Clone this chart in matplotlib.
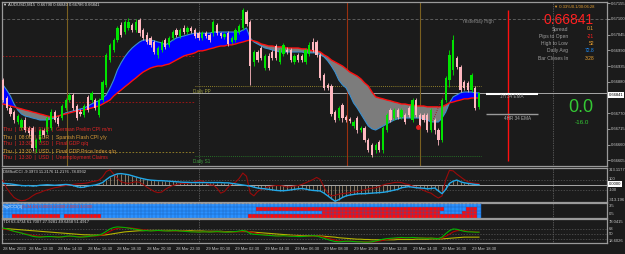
import numpy as np
import matplotlib
matplotlib.use("Agg")
import matplotlib.pyplot as plt
from matplotlib.colors import ListedColormap

plt.rcParams['font.family'] = ['Liberation Sans', 'DejaVu Sans']

W, H = 625, 254
BG = "#1b1b1b"

# ---- AUDUSD M15 bars, prices in 1e-5 ----
opens = [66886, 66823, 66788, 66774, 66739, 66718, 66746, 66718, 66718, 66648,
         66676, 66711, 66704, 66718, 66774, 66753, 66753, 66788, 66816, 66834,
         66795, 66774, 66764, 66827, 66816, 66816, 66764, 66816, 66869, 66956,
         66991, 67026, 67079, 67054, 67068, 67079, 67061, 67096, 67061, 67044,
         67033, 67019, 66974, 66991, 67026, 67009, 67033, 67061, 67040, 67068,
         67054, 67068, 67061, 67050, 67033, 67050, 67044, 67050, 67079, 67050,
         67037, 67050, 67019, 67026, 67054, 67068, 67124, 67089, 66949, 66984,
         66998, 66928, 66970, 66984, 67005, 66949, 66977, 66991, 66991, 66949,
         66974, 66970, 66949, 66977, 67019, 67019, 66974, 66904, 66869, 66865,
         66774, 66753, 66798, 66757, 66750, 66725, 66753, 66711, 66718, 66676,
         66658, 66641, 66669, 66641, 66711, 66781, 66753, 66781, 66757, 66764,
         66788, 66746, 66816, 66764, 66764, 66764, 66711, 66746, 66711, 66676,
         66816, 66886, 66921, 66963, 66932, 66879, 66876, 66851, 66858, 66790]
highs = [66893, 66830, 66795, 66781, 66767, 66753, 66756, 66725, 66725, 66683,
         66718, 66718, 66760, 66784, 66781, 66760, 66802, 66823, 66841, 66841,
         66802, 66784, 66802, 66834, 66848, 66823, 66823, 66886, 66981, 67016,
         67033, 67075, 67089, 67096, 67103, 67086, 67100, 67103, 67068, 67054,
         67040, 67026, 67005, 67026, 67033, 67040, 67061, 67068, 67068, 67079,
         67075, 67075, 67068, 67057, 67057, 67057, 67050, 67096, 67086, 67054,
         67054, 67057, 67040, 67068, 67082, 67138, 67131, 67096, 66991, 66991,
         67005, 66977, 66981, 66991, 67012, 66998, 67016, 67002, 66998, 66977,
         66981, 66977, 66998, 67019, 67033, 67026, 66981, 66911, 66876, 66872,
         66781, 66795, 66805, 66763, 66757, 66746, 66760, 66725, 66725, 66683,
         66665, 66665, 66676, 66725, 66771, 66788, 66788, 66788, 66788, 66771,
         66795, 66823, 66823, 66771, 66771, 66771, 66788, 66753, 66718, 66823,
         66900, 66991, 67044, 66970, 66939, 66886, 66883, 66911, 66865, 66841]
lows = [66809, 66781, 66760, 66735, 66732, 66711, 66704, 66690, 66637, 66634,
        66669, 66686, 66697, 66711, 66739, 66725, 66746, 66781, 66809, 66781,
        66746, 66760, 66757, 66774, 66809, 66781, 66757, 66809, 66862, 66949,
        66984, 67019, 67037, 67047, 67061, 67054, 67054, 67040, 67026, 67012,
        67002, 66977, 66963, 66984, 66995, 67002, 67026, 67037, 67033, 67047,
        67047, 67050, 67033, 67026, 67026, 67033, 67019, 67040, 67044, 67033,
        67030, 67005, 67012, 67019, 67047, 67061, 67075, 66869, 66935, 66949,
        66956, 66921, 66921, 66956, 66956, 66942, 66970, 66977, 66949, 66942,
        66949, 66949, 66942, 66970, 66984, 66967, 66886, 66851, 66851, 66760,
        66739, 66746, 66739, 66739, 66736, 66718, 66700, 66704, 66669, 66634,
        66616, 66630, 66634, 66630, 66704, 66739, 66746, 66750, 66750, 66732,
        66757, 66739, 66757, 66722, 66739, 66704, 66704, 66697, 66658, 66669,
        66809, 66862, 66904, 66925, 66844, 66851, 66844, 66844, 66781, 66786]
closes = [66816, 66788, 66767, 66746, 66760, 66746, 66711, 66700, 66648, 66676,
          66711, 66694, 66753, 66774, 66746, 66732, 66795, 66816, 66834, 66788,
          66753, 66767, 66795, 66781, 66841, 66788, 66816, 66879, 66974, 67009,
          67026, 67068, 67044, 67089, 67089, 67061, 67089, 67050, 67033, 67019,
          67009, 66984, 66998, 67019, 67002, 67033, 67054, 67044, 67061, 67054,
          67068, 67057, 67040, 67033, 67050, 67040, 67026, 67089, 67050, 67040,
          67047, 67012, 67033, 67061, 67075, 67131, 67082, 66935, 66984, 66956,
          66963, 66970, 66928, 66963, 66963, 66991, 67009, 66984, 66956, 66970,
          66956, 66956, 66991, 67009, 66991, 66974, 66893, 66858, 66858, 66767,
          66746, 66788, 66753, 66746, 66743, 66739, 66711, 66718, 66676, 66641,
          66623, 66658, 66641, 66718, 66764, 66746, 66781, 66757, 66781, 66739,
          66764, 66816, 66764, 66729, 66746, 66711, 66781, 66711, 66676, 66816,
          66893, 66974, 67026, 66932, 66851, 66858, 66851, 66904, 66788, 66841]

# fast / slow moving averages (1e-5)
ema_fast = [66869, 66851, 66830, 66802, 66781, 66767, 66760, 66757, 66753, 66750,
            66746, 66746, 66746, 66750, 66753, 66760, 66764, 66771, 66774, 66778,
            66781, 66785, 66788, 66795, 66802, 66809, 66813, 66823, 66834, 66858,
            66886, 66921, 66946, 66967, 66984, 66998, 67009, 67019, 67026, 67026,
            67026, 67023, 67019, 67016, 67009, 67016, 67026, 67033, 67037, 67040,
            67044, 67047, 67050, 67050, 67050, 67050, 67050, 67054, 67054, 67054,
            67054, 67054, 67054, 67054, 67054, 67061, 67068, 67033, 67019, 67012,
            67005, 66998, 66995, 66991, 66988, 66984, 66984, 66984, 66984, 66984,
            66984, 66984, 66981, 66981, 66981, 66981, 66974, 66967, 66953, 66935,
            66914, 66886, 66869, 66858, 66834, 66806, 66788, 66767, 66746, 66725,
            66715, 66711, 66718, 66725, 66732, 66739, 66746, 66750, 66753, 66753,
            66753, 66753, 66753, 66753, 66750, 66746, 66739, 66739, 66739, 66753,
            66774, 66806, 66827, 66834, 66841, 66844, 66844, 66844, 66841, 66841]
ema_slow = [66802, 66799, 66795, 66792, 66788, 66785, 66781, 66778, 66774, 66771,
            66767, 66764, 66760, 66757, 66757, 66760, 66764, 66767, 66771, 66774,
            66778, 66778, 66781, 66785, 66788, 66792, 66795, 66802, 66809, 66816,
            66830, 66841, 66851, 66862, 66872, 66883, 66893, 66904, 66914, 66921,
            66928, 66932, 66935, 66935, 66939, 66942, 66949, 66956, 66963, 66970,
            66974, 66977, 66981, 66988, 66988, 66991, 66995, 66998, 67002, 67005,
            67005, 67009, 67009, 67012, 67016, 67019, 67023, 67026, 67023, 67019,
            67012, 67009, 67005, 67005, 67002, 67002, 67002, 66998, 66998, 66998,
            66998, 66995, 66995, 66991, 66988, 66988, 66984, 66974, 66967, 66956,
            66949, 66942, 66935, 66925, 66914, 66907, 66900, 66890, 66876, 66865,
            66844, 66827, 66823, 66820, 66816, 66813, 66809, 66806, 66802, 66802,
            66799, 66799, 66795, 66795, 66795, 66792, 66792, 66792, 66792, 66792,
            66799, 66806, 66809, 66813, 66816, 66820, 66820, 66823, 66823, 66823]

# CCI panel
cci_fast = [30, 25, 20, 10, 0, -10, -15, -10, -20, -15,
            -5, 0, 5, 0, -5, 0, 5, 10, 5, -10,
            -30, -45, -40, -20, -10, 0, 20, 45, 100, 150,
            180, 205, 210, 200, 190, 170, 150, 130, 115, 100,
            90, 85, 80, 80, 75, 70, 65, 60, 55, 50,
            50, 45, 45, 45, 45, 45, 45, 45, 45, 45,
            40, 40, 30, 20, 10, 0, -10, -20, -40, -55,
            -65, -70, -80, -90, -100, -105, -105, -100, -90, -80,
            -70, -65, -75, -90, -100, -105, -110, -150, -200, -250,
            -300, -270, -230, -200, -185, -175, -165, -160, -160, -155,
            -150, -145, -140, -135, -125, -110, -95, -80, -50, -40,
            -30, -40, -50, -55, -60, -70, -65, -55, -110, -160,
            -80, 30, 70, 90, 60, 40, 30, 20, 10, 5]
cci_slow = [85, -60, -150, -230, -270, -290, -280, -250, -200, -160,
            -140, -110, -90, -70, -50, -40, -20, -10, 0, 10,
            20, 25, 30, 40, 60, 70, 90, 150, 250, 280,
            200, 120, 60, 40, 30, 45, 60, 50, 10, -40,
            -80, -120, -140, -130, -80, -40, -10, 10, 25, 30,
            30, 40, 60, 80, 75, 40, 0, 0, -60, -150,
            -120, -40, 20, 50, 120, 220, 160, -150, -200, -120,
            -80, -60, -30, -20, -10, -10, -20, -40, -30, -20,
            -10, 10, 40, 70, 100, 140, 100, -40, -150, -200,
            -190, -170, -160, -150, -140, -130, -120, -100, -90, -70,
            -60, -50, -30, 0, 20, 30, 45, 50, 45, 20,
            10, -20, -40, -70, -100, -130, -150, -200, -240, -200,
            100, 270, 260, 200, 150, 100, 60, 40, 30, 25]

# signal grid rows as (colour, bar count) runs, top row first; R = red, B = blue
grid_runs = [
    [("B", 130)],
    [("B", 69), ("R", 51), ("B", 6), ("R", 3), ("B", 1)],
    [("B", 87), ("R", 32), ("B", 6), ("R", 4), ("B", 1)],
    [("B", 3), ("R", 13), ("B", 1), ("R", 10), ("B", 40), ("R", 62), ("B", 1)],
]

# TDI panel
tdi_green = [71, 68, 64, 60, 57, 54, 50, 47, 43, 41,
             40, 41, 42, 42, 41, 40, 41, 43, 44, 43,
             41, 40, 41, 42, 44, 45, 47, 52, 60, 68,
             73, 75, 74, 73, 71, 69, 67, 65, 63, 62,
             61, 62, 63, 62, 61, 61, 62, 62, 61, 60,
             59, 58, 58, 57, 58, 58, 57, 58, 59, 58,
             57, 57, 58, 59, 61, 63, 60, 52, 50, 49,
             48, 47, 46, 45, 44, 44, 45, 44, 43, 43,
             42, 42, 43, 44, 45, 44, 40, 36, 32, 28,
             25, 24, 25, 26, 26, 25, 24, 24, 23, 23,
             24, 27, 30, 33, 35, 36, 37, 38, 39, 38,
             38, 39, 38, 37, 37, 36, 37, 36, 35, 40,
             52, 62, 68, 67, 63, 60, 58, 58, 57, 57]
tdi_red = [68, 66, 63, 60, 57, 54, 51, 49, 46, 44,
           43, 42, 42, 42, 42, 41, 41, 42, 43, 43,
           42, 42, 41, 42, 43, 44, 45, 48, 53, 60,
           66, 70, 72, 73, 72, 71, 69, 67, 65, 64,
           62, 62, 62, 62, 62, 61, 61, 61, 61, 61,
           60, 59, 58, 58, 58, 58, 58, 58, 58, 58,
           58, 57, 57, 58, 59, 60, 61, 58, 55, 52,
           50, 48, 47, 46, 45, 45, 45, 45, 44, 44,
           43, 43, 43, 43, 44, 44, 43, 40, 37, 33,
           30, 27, 26, 26, 26, 26, 25, 25, 24, 24,
           24, 25, 27, 29, 32, 34, 35, 36, 37, 38,
           38, 38, 38, 38, 37, 37, 37, 36, 36, 37,
           43, 50, 58, 62, 63, 62, 60, 59, 58, 57]
tdi_yellow = [70, 69, 68, 67, 66, 65, 64, 63, 62, 61,
              60, 59, 58, 57, 56, 55, 54, 53, 52, 51,
              50, 49, 48, 48, 47, 47, 47, 47, 48, 50,
              52, 54, 56, 58, 59, 60, 61, 62, 62, 63,
              63, 63, 63, 63, 63, 63, 63, 63, 62, 62,
              62, 62, 61, 61, 61, 60, 60, 60, 60, 60,
              59, 59, 59, 59, 59, 59, 59, 58, 57, 56,
              55, 54, 53, 52, 51, 50, 49, 48, 47, 46,
              46, 45, 45, 45, 45, 44, 44, 43, 42, 41,
              40, 38, 37, 36, 35, 34, 33, 33, 32, 32,
              31, 31, 31, 31, 31, 31, 31, 32, 32, 32,
              32, 32, 33, 33, 33, 33, 34, 34, 34, 34,
              35, 36, 37, 38, 39, 40, 40, 40, 40, 40]

price_ticks = [0.67155, 0.67100, 0.67045, 0.66990, 0.66935, 0.66880,
               0.66770, 0.66715, 0.66660, 0.66605]
time_labels = ["28 Mar 2023", "28 Mar 12:30", "28 Mar 14:30", "28 Mar 16:30",
               "28 Mar 18:30", "28 Mar 20:30", "28 Mar 22:30", "29 Mar 00:30",
               "29 Mar 02:30", "29 Mar 04:30", "29 Mar 06:30", "29 Mar 08:30",
               "29 Mar 10:30", "29 Mar 12:30", "29 Mar 14:30", "29 Mar 16:30",
               "29 Mar 18:30"]
time_pos = [0, 7, 15, 23, 31, 39, 47, 55, 63, 71, 79, 87, 95, 103, 111, 119, 127]

news = ["Thu  |  07:00  |  EUR  |  German Prelim CPI m/m",
        "Thu  |  08:00  |  EUR  |  Spanish Flash CPI y/y",
        "Thu  |  13:30  |  USD  |  Final GDP q/q",
        "Thu  |  13:30  |  USD  |  Final GDP Price Index q/q",
        "Thu  |  13:30  |  USD  |  Unemployment Claims"]
news_colors = ["#e02424", "#e0a038", "#e02424", "#e0a038", "#e02424"]

info_names = ["Spread", "Pips to Open", "High to Low", "Daily Avg", "Bar Closes In"]
info_values = ["0.1", "-21", "52", "72.8", "3:28"]
info_colors = ["#e8a030", "#ff2020", "#e8a030", "#1e90ff", "#e8a030"]

# ---------------------------------------------------------------
o = np.array(opens) / 1e5
h = np.array(highs) / 1e5
l = np.array(lows) / 1e5
c = np.array(closes) / 1e5
fast = np.array(ema_fast) / 1e5
slow = np.array(ema_slow) / 1e5
idx = np.arange(len(o))
XL = (-0.27, 163.7)

fig = plt.figure(figsize=(W / 100, H / 100), dpi=100, facecolor=BG)


def px(x0, y0, x1, y1):
    return [x0 / W, 1 - y1 / H, (x1 - x0) / W, (y1 - y0) / H]


def ftext(x, y, s, **kw):
    kw.setdefault("va", "center")
    fig.text(x / W, 1 - y / H, s, **kw)


def panel(rect):
    a = fig.add_axes(px(*rect))
    a.set_facecolor(BG)
    a.set_xlim(*XL)
    a.set_xticks([])
    a.set_yticks([])
    for s in a.spines.values():
        s.set_color("#9a9a9a")
        s.set_linewidth(0.9)
    for d in (53, 149):
        a.axvline(d, color="#8a8a8a", ls=(0, (1, 1.5)), lw=0.5, zorder=1)
    return a


# ---- main price panel ----
ax = panel((2, 2, 607, 166))
ax.set_ylim(0.66585, 0.67159)
ax.yaxis.tick_right()
ax.set_yticks(price_ticks)
ax.set_yticklabels(["%.5f" % p for p in price_ticks])
ax.tick_params(axis="y", colors="#c8c8c8", labelsize=3, length=2, width=0.5, pad=1)

ax.fill_between(idx, fast, slow, where=fast >= slow, interpolate=True, color="#0000ff", lw=0, zorder=2)
ax.fill_between(idx, fast, slow, where=fast < slow, interpolate=True, color="#7c7c7c", lw=0, zorder=2)
ax.plot(idx, fast, color="#3a90d0", lw=0.8, zorder=3)
ax.plot(idx, slow, color="#ff1010", lw=1.0, zorder=3)

up = c >= o
col = np.where(up, "#00e400", "#ffb8c0")
ax.vlines(idx, l, h, colors=col, lw=0.6, zorder=5)
ax.bar(idx, np.maximum(np.abs(c - o), 0.00002), bottom=np.minimum(o, c), width=0.62,
       color=col, lw=0, zorder=6)

# reference lines
ax.axhline(0.67100, color="#5c5c5c", ls=(0, (3, 2)), lw=0.7, zorder=1)
ax.hlines([0.66970, 0.66809], XL[0], 52, color="#b01414", ls=(0, (2, 2)), lw=0.6, zorder=1)
ax.hlines(0.66634, XL[0], 52, color="#a08a2a", ls=(0, (2, 2)), lw=0.6, zorder=1)
ax.hlines(0.66865, 52, 129.5, color="#b4a030", ls=(0, (1, 1.5)), lw=0.6, zorder=1)
ax.hlines(0.66620, 52, 129.5, color="#2a8a2a", ls=(0, (1, 1.5)), lw=0.6, zorder=1)
ax.axhline(0.66841, color="#a8a8a8", lw=0.7, zorder=1)
ax.axvline(17.3, color="#7a6020", lw=0.8, zorder=1)
ax.axvline(113, color="#7a6020", lw=0.8, zorder=1)
ax.axvline(93.2, color="#9a3010", lw=0.8, zorder=1)
ax.vlines(137, 0.66602, 0.67131, color="#ff1010", lw=1.0, zorder=4)
ax.plot([116, 120.5], [0.66728, 0.66869], color="#a01010", ls=":", lw=0.6, zorder=4)
ax.plot(112.5, 0.66721, "o", ms=2.5, color="#e02020", zorder=7)
ax.hlines(0.66838, 130.9, 145, color="white", lw=1.5, zorder=4)
ax.hlines(0.66766, 130.9, 145, color="#9a9a9a", lw=1.0, zorder=4)

# ---- texts in the main panel ----
ftext(3, 5, "\u25bc AUDUSD,M15  0.66790 0.66840 0.66786 0.66841", fontsize=3, color="#e0e0e0")
ftext(594, 7, "\u25bc 0.33%/0.1/00:06:28", fontsize=3, color="#e8a030", ha="right")
ftext(594, 20, "0.66841", fontsize=10, color="#ff2020", ha="right")
for k, (nm, v, vc) in enumerate(zip(info_names, info_values, info_colors)):
    yy = 29 + k * 7.3
    ftext(568, yy, nm, fontsize=3.6, color="#a0a0a0", ha="right")
    ftext(594, yy, v, fontsize=3.6, color=vc, ha="right")
ftext(462, 22, "Yesterday High", fontsize=3.3, color="#8a8a8a")
ftext(193, 92, "Daily PP", fontsize=3.3, color="#a0a040")
ftext(193, 162, "Daily S1", fontsize=3.3, color="#40a040")
ftext(512, 97, "1H 34 EMA", fontsize=3.3, color="#9a9a9a", ha="center")
ftext(518, 118, "4HR 34 EMA", fontsize=3.3, color="#b0b0b0", ha="center")
ftext(581, 108, "0.0", fontsize=13, color="#34c834", ha="center")
ftext(582, 122, "-16.0", fontsize=4.5, color="#34c834", ha="center")
for k, (line, nc) in enumerate(zip(news, news_colors)):
    ftext(3, 130 + k * 7, line, fontsize=3.7, color=nc)
ftext(609, 95, "0.66841", fontsize=3, color="black",
      bbox=dict(fc="white", ec="none", pad=0.4))

# ---- CCI panel ----
a2 = panel((2, 168, 607, 202))
a2.set_ylim(-313.196, 313.1177)
a2.vlines(idx, 0, cci_fast, color="#c4ac88", lw=0.45, zorder=2)
a2.axhline(0, color="#a8a8a8", lw=0.7, zorder=2)
a2.axhline(100, color="#5a5a5a", ls=(0, (2, 2)), lw=0.5, zorder=1)
a2.axhline(-100, color="#5a5a5a", ls=(0, (2, 2)), lw=0.5, zorder=1)
a2.plot(idx, cci_slow, color="#9a0a0a", lw=0.8, zorder=3)
a2.plot(idx, cci_fast, color="#22a8e8", lw=1.0, zorder=4)
ftext(3, 172, "DMSolCCI -9.3973 11.2176 11.2176 -78.0932", fontsize=3, color="#d8d8d8")
for yy, s in [(170, "313.1177"), (179, "100"), (190, "-100"), (200, "-313.196")]:
    ftext(609, yy, s, fontsize=3, color="#c8c8c8")
ftext(609, 184, "0.0000", fontsize=3, color="black", bbox=dict(fc="white", ec="none", pad=0.4))

# ---- signal grid ----
a3 = panel((2, 203, 607, 218))
a3.set_ylim(0, 4)
grid = []
for runs in grid_runs[::-1]:
    row = []
    for colour, n in runs:
        row += [1 if colour == "R" else 0] * n
    grid.append(row)
a3.pcolormesh(np.arange(len(o) + 1) - 0.5, np.arange(5), np.array(grid),
              cmap=ListedColormap(["#2990ff", "#ff0a0a"]), vmin=0, vmax=1,
              edgecolors="face", linewidth=0, zorder=2)
a3.vlines(np.arange(len(o)) + 0.5, 0, 4, color="#1b5fb8", lw=0.35, zorder=3)
a3.hlines([1, 2, 3], -0.5, len(o) - 0.5, color="#1b5fb8", lw=0.35, zorder=3)
ftext(3, 207, "Sig2CCI(3)", fontsize=3, color="#f0f0f0", zorder=5)
ftext(22, 207, "(5,34,10) 0.0000 1.0000 2.0000 3.0000", fontsize=3, color="#ff3030", zorder=5)
ftext(609, 206, "3.5", fontsize=3, color="#c8c8c8")
ftext(609, 214, "0.5", fontsize=3, color="#c8c8c8")

# ---- TDI panel ----
a4 = panel((2, 219, 607, 243))
a4.set_ylim(20, 102)
for lv in (68, 50, 32):
    a4.axhline(lv, color="#5a5a5a", ls=(0, (2, 2)), lw=0.5, zorder=1)
a4.plot(idx, tdi_yellow, color="#b4b400", lw=0.8, zorder=2)
a4.plot(idx, tdi_red, color="#b40000", lw=0.8, zorder=3)
a4.plot(idx, tdi_green, color="#00b400", lw=0.8, zorder=4)
ftext(3, 222, "TDI 63.4734 61.7007 27.9281 49.6458 51.4917", fontsize=3, color="#d8d8d8")
for yy, s in [(222, "78.0415"), (229, "68"), (234, "50"), (241, "18.6026")]:
    ftext(609, yy, s, fontsize=3, color="#c8c8c8")

# ---- time axis ----
for k, s in zip(time_pos, time_labels):
    xx = 3 + 3.69 * k
    ftext(xx, 249, s, fontsize=3, color="#c8c8c8")

fig.savefig("out.png", dpi=100, facecolor=BG)
